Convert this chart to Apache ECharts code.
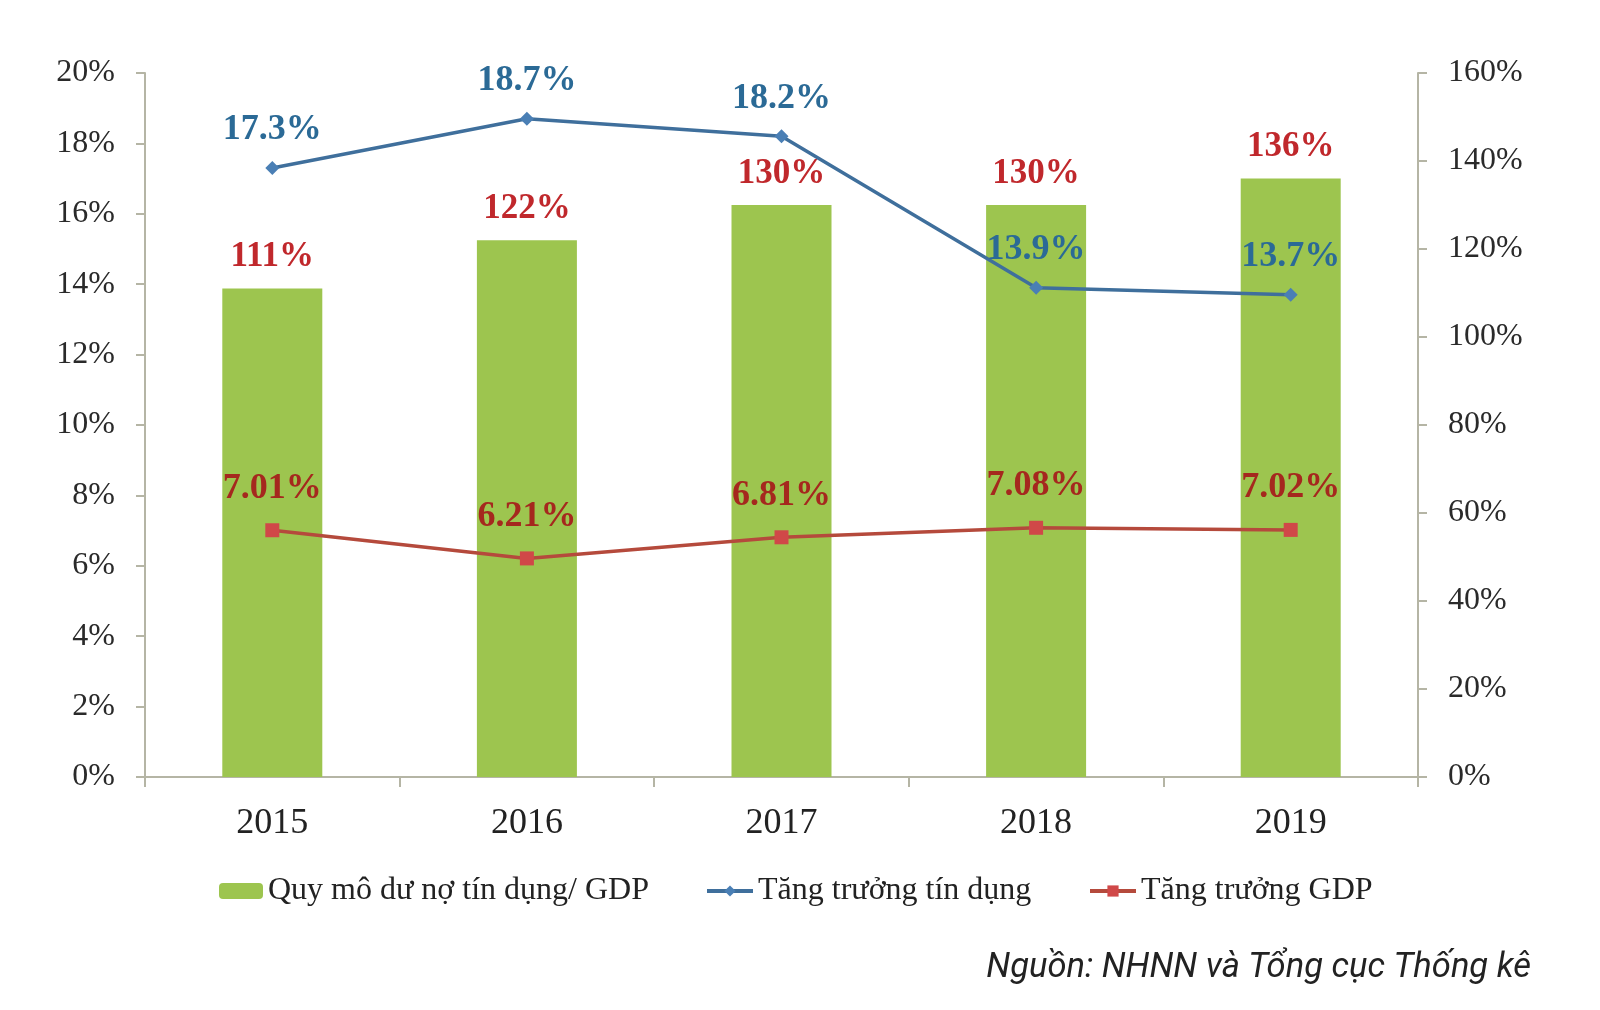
<!DOCTYPE html>
<html><head><meta charset="utf-8">
<script src="https://cdn.jsdelivr.net/npm/echarts@6/dist/echarts.min.js"></script>
<style>html,body{margin:0;padding:0;background:#fff}#c{width:1600px;height:1010px}</style>
</head>
<body><div id="c"></div>
<script>
const years = ['2015', '2016', '2017', '2018', '2019'];
const creditToGdp = [111, 122, 130, 130, 136];
const creditGrowth = [17.3, 18.7, 18.2, 13.9, 13.7];
const gdpGrowth = [7.01, 6.21, 6.81, 7.08, 7.02];
const leftTicks = ['0%', '2%', '4%', '6%', '8%', '10%', '12%', '14%', '16%', '18%', '20%'];
const rightTicks = ['0%', '20%', '40%', '60%', '80%', '100%', '120%', '140%', '160%'];
const seriesNames = ['Quy mô dư nợ tín dụng/ GDP', 'Tăng trưởng tín dụng', 'Tăng trưởng GDP'];
const sourceText = 'Nguồn: NHNN và Tổng cục Thống kê';

const serif = "'Liberation Serif', 'Times New Roman', serif";
const axisColor = '#b5b5a5';
const chart = echarts.init(document.getElementById('c'));

const legendText = { fontSize: 32, fontFamily: serif, color: '#222' };

chart.setOption({
  backgroundColor: '#fff',
  animation: false,
  grid: { left: 145, right: 182, top: 73, bottom: 233, containLabel: false },
  xAxis: {
    type: 'category',
    data: years,
    axisLine: { lineStyle: { color: axisColor, width: 2 } },
    axisTick: { show: true, length: 10, lineStyle: { color: axisColor, width: 2 } },
    axisLabel: { margin: 29, fontSize: 36, fontFamily: serif, color: '#222' }
  },
  yAxis: [
    {
      type: 'value', min: 0, max: 20, interval: 2,
      splitLine: { show: false },
      axisLine: { show: true, lineStyle: { color: axisColor, width: 2 } },
      axisTick: { show: true, length: 9, lineStyle: { color: axisColor, width: 2 } },
      axisLabel: {
        margin: 30, fontSize: 32, fontFamily: serif, color: '#2a2a2a',
        formatter: v => leftTicks[Math.round(v / 2)]
      }
    },
    {
      type: 'value', min: 0, max: 160, interval: 20,
      splitLine: { show: false },
      axisLine: { show: true, lineStyle: { color: axisColor, width: 2 } },
      axisTick: { show: true, length: 9, lineStyle: { color: axisColor, width: 2 } },
      axisLabel: {
        margin: 30, fontSize: 32, fontFamily: serif, color: '#2a2a2a',
        formatter: v => rightTicks[Math.round(v / 20)]
      }
    }
  ],
  legend: [
    { data: [seriesNames[0]], left: 214, top: 870, itemWidth: 44, itemHeight: 16, itemGap: 0, textStyle: legendText },
    { data: [seriesNames[1]], left: 700, top: 870, itemWidth: 46, itemHeight: 14, itemGap: 0, textStyle: legendText, lineStyle: { width: 4 } },
    { data: [seriesNames[2]], left: 1083, top: 870, itemWidth: 46, itemHeight: 14, itemGap: 0, textStyle: legendText, lineStyle: { width: 4 } }
  ],
  graphic: [
    {
      type: 'text', right: 69, top: 951,
      style: { text: sourceText, font: "italic 34.5px Roboto", fill: '#222' }
    }
  ],
  series: [
    {
      name: seriesNames[0], type: 'bar', yAxisIndex: 1, data: creditToGdp,
      barWidth: 100, z: 1,
      itemStyle: { color: '#9dc54f' },
      label: {
        show: true, position: 'top', distance: 14,
        fontSize: 35, fontWeight: 'bold', fontFamily: serif, color: '#c0282c',
        formatter: p => p.value + '%'
      }
    },
    {
      name: seriesNames[1], type: 'line', yAxisIndex: 0, data: creditGrowth,
      z: 3, symbol: 'diamond', symbolSize: 14,
      lineStyle: { color: '#3f6f9c', width: 3.5 },
      itemStyle: { color: '#4a7fb5' },
      label: {
        show: true, position: 'top', distance: 13,
        fontSize: 36, fontFamily: serif, fontWeight: 'bold', color: '#2b6a96',
        formatter: p => p.value.toFixed(1) + '%'
      }
    },
    {
      name: seriesNames[2], type: 'line', yAxisIndex: 0, data: gdpGrowth,
      z: 3, symbol: 'rect', symbolSize: 14,
      lineStyle: { color: '#b54a3c', width: 3.5 },
      itemStyle: { color: '#d04848' },
      label: {
        show: true, position: 'top', distance: 17,
        fontSize: 36, fontFamily: serif, fontWeight: 'bold', color: '#a5281e',
        formatter: p => p.value.toFixed(2) + '%'
      }
    }
  ]
});
</script>
</body></html>
